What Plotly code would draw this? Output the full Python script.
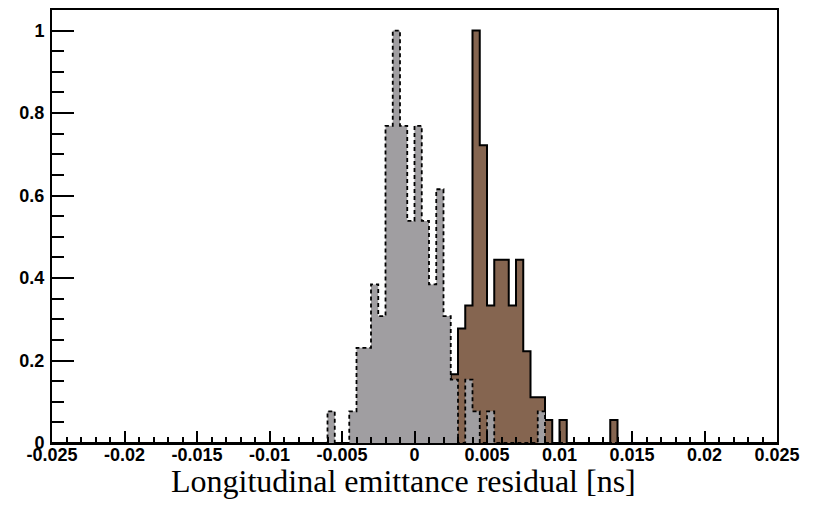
import numpy as np
import plotly.graph_objects as go

# Histogram definition: 100 bins from -0.025 to 0.025 (bin width 0.0005)
x_min, x_max, n_bins = -0.025, 0.025, 100

# Non-empty bins (bin index -> count)
gray_bins = [38, 41, 42, 43, 44, 45, 46, 47, 48, 49, 50, 51, 52, 53, 54, 55, 57, 58, 60, 67]
gray_counts = [1, 1, 3, 3, 5, 4, 10, 13, 10, 7, 10, 7, 5, 8, 4, 2, 2, 1, 1, 1]

brown_bins = [55, 56, 57, 58, 59, 60, 61, 62, 63, 64, 65, 66, 67, 68, 70, 77]
brown_counts = [3, 5, 6, 18, 13, 6, 8, 8, 6, 8, 4, 2, 2, 1, 1, 1]

x_tickvals = [-0.025, -0.02, -0.015, -0.01, -0.005, 0, 0.005, 0.01, 0.015, 0.02, 0.025]
x_ticktext = ["-0.025", "-0.02", "-0.015", "-0.01", "-0.005", "0", "0.005", "0.01", "0.015", "0.02", "0.025"]
y_tickvals = [0, 0.2, 0.4, 0.6, 0.8, 1.0]
y_ticktext = ["0", "0.2", "0.4", "0.6", "0.8", "1"]

edges = np.linspace(x_min, x_max, n_bins + 1)


def hist_values(bins, counts):
    v = np.zeros(n_bins)
    v[bins] = counts
    v = v / v.max()
    return np.append(v, v[-1])


gray_y = hist_values(gray_bins, gray_counts)
brown_y = hist_values(brown_bins, brown_counts)

fig = go.Figure()
fig.add_trace(go.Scatter(
    x=edges, y=brown_y, mode="lines", line_shape="hv",
    line=dict(color="black", width=2),
    fill="tozeroy", fillcolor="#856550", showlegend=False, hoverinfo="skip"))
fig.add_trace(go.Scatter(
    x=edges, y=gray_y, mode="lines", line_shape="hv",
    line=dict(color="black", width=1.8, dash="4px,3px"),
    fill="tozeroy", fillcolor="#a09ea1", showlegend=False, hoverinfo="skip"))

tickfont = dict(family="Liberation Sans, Arial, sans-serif", size=18, color="black", weight="bold")

fig.update_xaxes(
    range=[x_min, x_max], showgrid=False, zeroline=False,
    showline=True, linecolor="black", linewidth=2, mirror=True,
    ticks="inside", ticklen=12, tickwidth=1.5, tickcolor="black",
    tickvals=x_tickvals, ticktext=x_ticktext, tickfont=tickfont,
    ticklabelstandoff=-6,
    minor=dict(dtick=0.001, tick0=x_min, ticks="inside", ticklen=6, tickwidth=1.5, tickcolor="black", showgrid=False),
)
fig.update_yaxes(
    range=[0, 1.05], showgrid=False, zeroline=False,
    showline=True, linecolor="black", linewidth=2, mirror=True,
    ticks="inside", ticklen=22, tickwidth=1.5, tickcolor="black",
    tickvals=y_tickvals, ticktext=y_ticktext, tickfont=tickfont,
    ticklabelstandoff=2,
    minor=dict(dtick=0.05, tick0=0, ticks="inside", ticklen=12, tickwidth=1.5, tickcolor="black", showgrid=False),
)

fig.add_annotation(
    text="Longitudinal emittance residual [ns]",
    xref="paper", yref="paper", x=0.4855, y=-0.088,
    xanchor="center", yanchor="middle", showarrow=False,
    font=dict(family="Liberation Serif, Times New Roman, serif", size=32, color="black"),
)

fig.update_layout(
    width=813, height=510,
    margin=dict(l=52, r=36, t=8, b=67),
    paper_bgcolor="white", plot_bgcolor="white",
)

fig.write_html("out.html")
